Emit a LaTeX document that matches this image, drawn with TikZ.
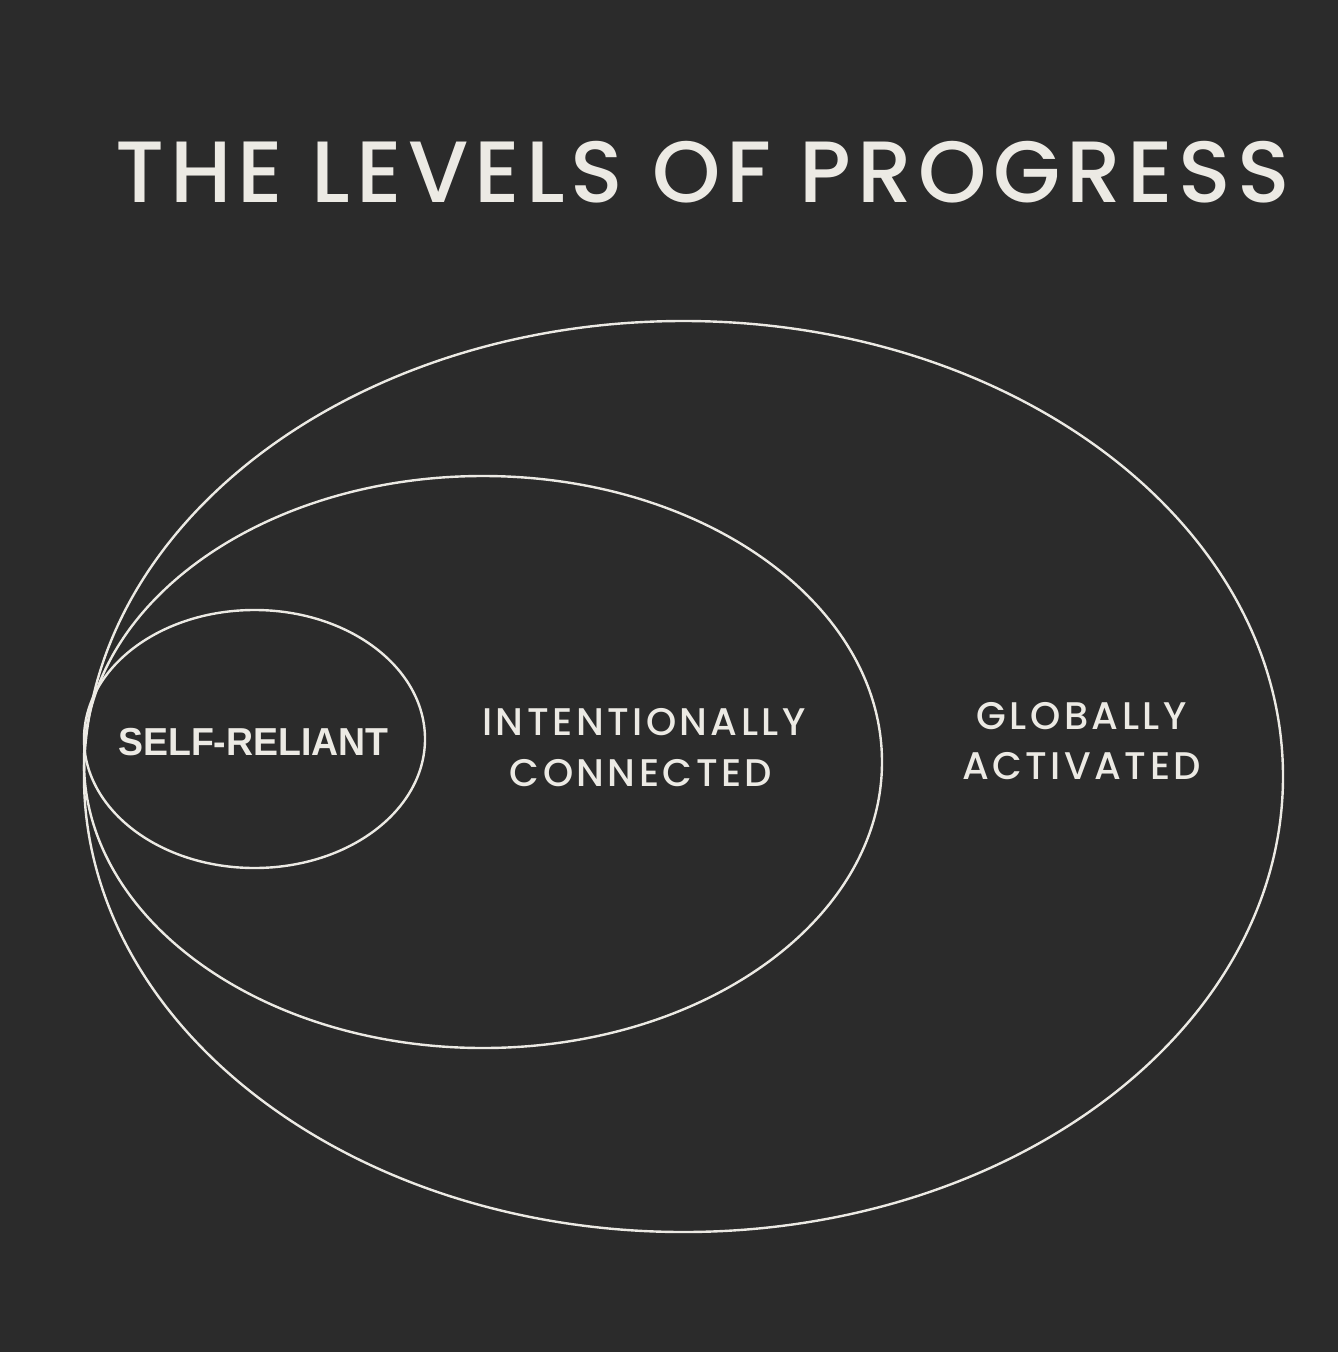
\documentclass[tikz,border=0pt]{standalone}
\usepackage{fontspec}
\setmainfont{Poppins}
\newfontfamily\medfont{Poppins Medium}
\newfontfamily\labelfont{Liberation Sans}[BoldFont={* Bold}]
\definecolor{bg}{HTML}{2B2B2B}
\definecolor{ink}{HTML}{ECEAE4}
\begin{document}
\begin{tikzpicture}[x=1pt,y=-1pt,
  ring/.style={draw=ink, line width=2.4pt},
  titletext/.style={text=ink, inner sep=0pt, font=\fontsize{87}{90}\medfont\addfontfeatures{LetterSpace=6.95}},
  leveltext/.style={text=ink, inner sep=0pt, align=center, font=\fontsize{38.5}{50}\medfont\addfontfeatures{LetterSpace=9}},
  boldtext/.style={text=ink, inner sep=0pt, font=\fontsize{39}{40}\selectfont\labelfont\bfseries}]
\fill[bg] (0,0) rectangle (1338,1352);
\useasboundingbox (0,0) rectangle (1338,1352);
% rings
\draw[ring] (683.5,776.5) ellipse [x radius=599.5, y radius=455.5];
\draw[ring] (483,762) ellipse [x radius=399, y radius=286];
\draw[ring] (254.5,739) ellipse [x radius=170.5, y radius=129];
% title
\node[titletext, anchor=base west] (title) at (115,202) {THE LEVELS OF PROGRESS};
% labels
\node[boldtext, anchor=base west, xscale=0.96] (self) at (118,755) {SELF-RELIANT};
\node[leveltext, anchor=base] (int1) at (644,735) {INTENTIONALLY};
\node[leveltext, anchor=base] (int2) at (641,786) {CONNECTED};
\node[leveltext, anchor=base] (glob1) at (1081.5,729) {GLOBALLY};
\node[leveltext, anchor=base] (glob2) at (1081.5,779) {ACTIVATED};
\end{tikzpicture}
\end{document}
